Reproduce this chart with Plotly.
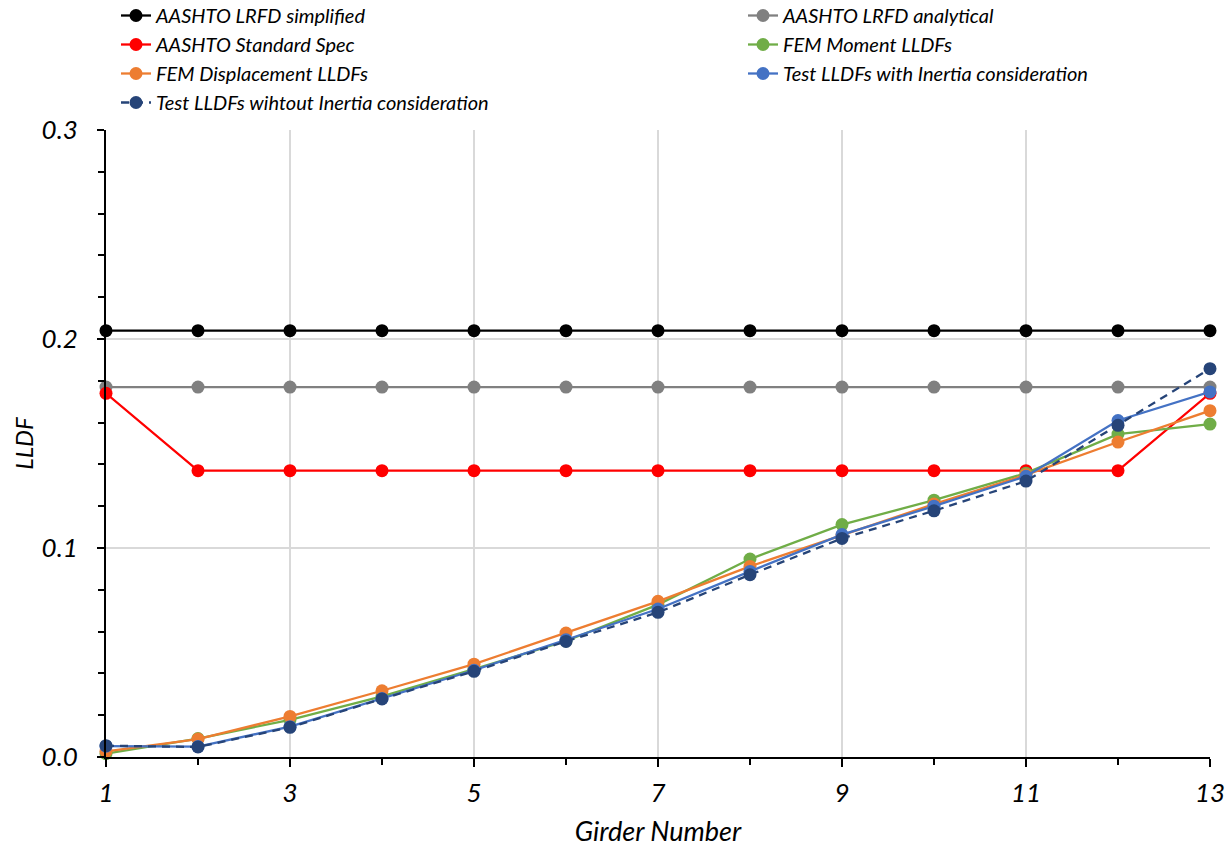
import plotly.graph_objects as go

girders = list(range(1, 14))

lrfd_simplified = [0.204] * 13
lrfd_analytical = [0.177] * 13
standard_spec = [0.174, 0.137, 0.137, 0.137, 0.137, 0.137, 0.137, 0.137, 0.137, 0.137, 0.137, 0.137, 0.174]
fem_moment = [0.0016, 0.0088, 0.0178, 0.029, 0.042, 0.0555, 0.0729, 0.0947, 0.1112, 0.1229, 0.1358, 0.1545, 0.1593]
fem_displacement = [0.0027, 0.0086, 0.0194, 0.0317, 0.0444, 0.0593, 0.0745, 0.0912, 0.106, 0.121, 0.135, 0.1507, 0.1657]
test_with_inertia = [0.0052, 0.005, 0.0145, 0.028, 0.0415, 0.0561, 0.0708, 0.0888, 0.1064, 0.120, 0.1343, 0.161, 0.1747]
test_without_inertia = [0.0054, 0.0048, 0.0142, 0.0278, 0.041, 0.0553, 0.0692, 0.0872, 0.1046, 0.1178, 0.132, 0.1587, 0.1858]

series = [
    ("AASHTO LRFD simplified", lrfd_simplified, "#000000", "solid", "legend"),
    ("AASHTO LRFD analytical", lrfd_analytical, "#808080", "solid", "legend2"),
    ("AASHTO Standard Spec", standard_spec, "#FF0000", "solid", "legend"),
    ("FEM Moment LLDFs", fem_moment, "#70AD47", "solid", "legend2"),
    ("FEM Displacement LLDFs", fem_displacement, "#ED7D31", "solid", "legend"),
    ("Test LLDFs with Inertia consideration", test_with_inertia, "#4472C4", "solid", "legend2"),
    ("Test LLDFs wihtout Inertia consideration", test_without_inertia, "#264478", "8px,6px", "legend"),
]

FONT = "Lato"
W, H = 1230, 847
ML, MR, MT, MB = 106, 20, 130, 90
PW, PH = W - ML - MR, H - MT - MB

fig = go.Figure()
for name, vals, color, dash, leg in series:
    fig.add_trace(go.Scatter(
        x=girders, y=vals, name=name, mode="lines+markers",
        line=dict(color=color, width=2.3, dash=dash),
        marker=dict(color=color, size=13),
        cliponaxis=False, legend=leg,
    ))

legend_common = dict(
    orientation="v", yanchor="top", xanchor="left",
    font=dict(family=FONT, size=20, color="#000000", style="italic"),
    bgcolor="rgba(0,0,0,0)", traceorder="normal",
)
leg_y = (H - MB + 4) / PH

fig.update_layout(
    width=W, height=H,
    margin=dict(l=ML, r=MR, t=MT, b=MB, autoexpand=False),
    paper_bgcolor="white", plot_bgcolor="white",
    font=dict(family=FONT, color="#000000", style="italic"),
    showlegend=True,
    legend=dict(x=(116 - ML) / PW, y=leg_y, **legend_common),
    legend2=dict(x=(743 - ML) / PW, y=leg_y, **legend_common),
    xaxis=dict(
        range=[1, 13], tickvals=[1, 3, 5, 7, 9, 11, 13],
        showgrid=True, gridcolor="#D9D9D9", gridwidth=1.5,
        showline=True, linecolor="#000000", linewidth=2,
        ticks="outside", ticklen=8, tickwidth=2, tickcolor="#000000",
        minor=dict(tickvals=[2, 4, 6, 8, 10, 12], ticks="outside", ticklen=6, tickwidth=1.5, tickcolor="#000000", showgrid=False),
        tickfont=dict(family=FONT, size=26, style="italic"),
        ticklabelstandoff=4,
        zeroline=False, automargin=False,
        title=dict(text="Girder Number", font=dict(family=FONT, size=27, style="italic")),
    ),
    yaxis=dict(
        range=[0, 0.3], tickvals=[0, 0.1, 0.2, 0.3], tickformat=".1f",
        showgrid=True, gridcolor="#D9D9D9", gridwidth=1.5,
        showline=True, linecolor="#000000", linewidth=2,
        ticks="outside", ticklen=7, tickwidth=2, tickcolor="#000000",
        minor=dict(dtick=0.02, ticks="outside", ticklen=6, tickwidth=1.5, tickcolor="#000000", showgrid=False),
        tickfont=dict(family=FONT, size=26, style="italic"),
        ticklabelstandoff=14,
        zeroline=False, automargin=False,
        title=dict(text="LLDF", font=dict(family=FONT, size=24, style="italic"), standoff=1),
    ),
)

fig.write_html(
    "out.html",
    config={"displayModeBar": False},
    post_script="document.body.style.margin='0px';document.body.style.overflow='hidden';",
)
